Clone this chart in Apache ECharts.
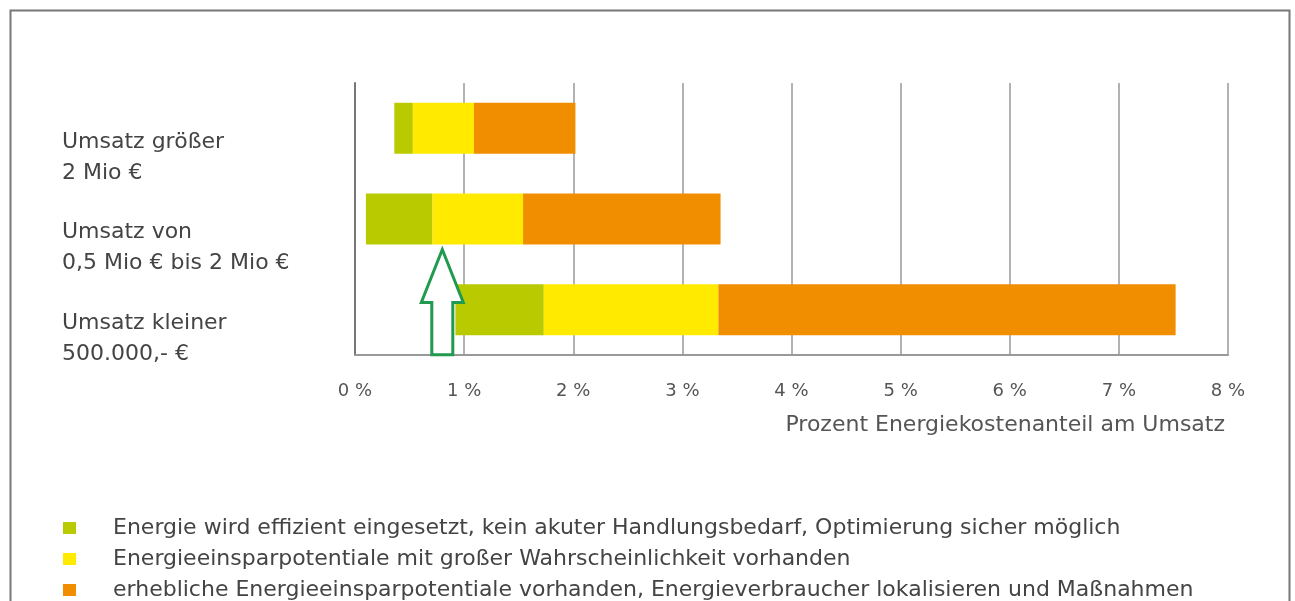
<!DOCTYPE html>
<html>
<head>
<meta charset="utf-8">
<script src="https://cdn.jsdelivr.net/npm/echarts@6/dist/echarts.min.js"></script>
<style>
html,body{margin:0;padding:0;background:#fff;}
#chart{width:1295px;height:601px;}
</style>
</head>
<body>
<div id="chart"></div>
<script>
// ---- data ----
var categories = ['Umsatz größer\n2 Mio €', 'Umsatz von\n0,5 Mio € bis 2 Mio €', 'Umsatz kleiner\n500.000,- €'];
var barStart   = [0.36, 0.10, 0.92];   // % where the bar begins
var greenEnd   = [0.53, 0.71, 1.73];   // % where the green part ends
var yellowEnd  = [1.09, 1.54, 3.33];   // % where the yellow part ends
var orangeEnd  = [2.02, 3.35, 7.52];   // % where the orange part ends
var seriesNames = [
  'Energie wird effizient eingesetzt, kein akuter Handlungsbedarf, Optimierung sicher möglich',
  'Energieeinsparpotentiale mit großer Wahrscheinlichkeit vorhanden',
  'erhebliche Energieeinsparpotentiale vorhanden, Energieverbraucher lokalisieren und Maßnahmen'
];
var tickValues = [0, 1, 2, 3, 4, 5, 6, 7, 8];
var axisTitle = 'Prozent Energiekostenanteil am Umsatz';
var arrowAt = 0.80; // % position of the arrow annotation

// ---- derived ----
function diff(a, b) { return a.map(function (v, i) { return +(v - b[i]).toFixed(3); }); }
var greenLen = diff(greenEnd, barStart);
var yellowLen = diff(yellowEnd, greenEnd);
var orangeLen = diff(orangeEnd, yellowEnd);

var FONT = "'DejaVu Sans', Verdana, sans-serif";
var colors = ['#b9cb00', '#ffea00', '#f08e00'];

var chart = echarts.init(document.getElementById('chart'));
var barW = 51;
var option = {
  animation: false,
  textStyle: { fontFamily: FONT },
  grid: { left: 355, right: 67, top: 83, bottom: 246 },
  legend: {
    orient: 'vertical',
    left: 63, top: 517, height: 200,
    padding: 0,
    itemWidth: 13, itemHeight: 12, itemGap: 9,
    icon: 'rect',
    selectedMode: false,
    data: seriesNames,
    textStyle: { fontFamily: FONT, fontSize: 22, color: '#444', lineHeight: 16, padding: [0, 0, 0, 32] }
  },
  xAxis: {
    type: 'value', min: 0, max: 8, interval: 1,
    axisLine: { show: true, onZero: false, lineStyle: { color: '#999', width: 2 } },
    axisTick: { show: false },
    splitLine: { show: true, lineStyle: { color: '#999', width: 1.5 } },
    axisLabel: {
      margin: 27, fontFamily: FONT, fontSize: 18, color: '#555',
      formatter: function (v) { return v + ' %'; }
    },
    name: axisTitle,
    nameLocation: 'end',
    nameGap: -3,
    nameTextStyle: { fontFamily: FONT, fontSize: 22, color: '#555', align: 'right', verticalAlign: 'top', padding: [59, 0, 0, 0] }
  },
  yAxis: {
    type: 'category', data: categories, inverse: true,
    axisLine: { show: true, lineStyle: { color: '#777', width: 2 } },
    axisTick: { show: false },
    axisLabel: {
      align: 'left', margin: 293, verticalAlign: 'top',
      fontFamily: FONT, fontSize: 22, color: '#444', lineHeight: 31, padding: [-2, 0, 0, 0]
    }
  },
  series: [
    { name: 'base', type: 'bar', stack: 's', barWidth: barW, silent: true,
      itemStyle: { color: 'rgba(0,0,0,0)' }, data: barStart },
    { name: seriesNames[0], type: 'bar', stack: 's', barWidth: barW,
      itemStyle: { color: colors[0] }, data: greenLen },
    { name: seriesNames[1], type: 'bar', stack: 's', barWidth: barW,
      itemStyle: { color: colors[1] }, data: yellowLen },
    { name: seriesNames[2], type: 'bar', stack: 's', barWidth: barW,
      itemStyle: { color: colors[2] }, data: orangeLen }
  ]
};
chart.setOption(option);

// arrow annotation & frame
var cx = chart.convertToPixel({ xAxisIndex: 0 }, arrowAt);
var midY = chart.convertToPixel({ yAxisIndex: 0 }, categories[1]);
var tipY = midY + barW / 2 + 5;
var baseY = chart.convertToPixel({ yAxisIndex: 0 }, categories[2]) + 45;
var headH = 53, headHalf = 21, shaftHalf = 10.5;
chart.setOption({
  graphic: [
    { type: 'rect', left: 8, top: 8, shape: { x: 0, y: 0, width: 1279, height: 640 },
      style: { fill: 'none', stroke: '#777', lineWidth: 2 }, silent: true },
    { type: 'polygon', z: 100,
      shape: { points: [
        [cx, tipY], [cx + headHalf, tipY + headH], [cx + shaftHalf, tipY + headH],
        [cx + shaftHalf, baseY], [cx - shaftHalf, baseY], [cx - shaftHalf, tipY + headH],
        [cx - headHalf, tipY + headH]
      ] },
      style: { fill: '#fff', stroke: '#1f9a4e', lineWidth: 3 } }
  ]
});
</script>
</body>
</html>
